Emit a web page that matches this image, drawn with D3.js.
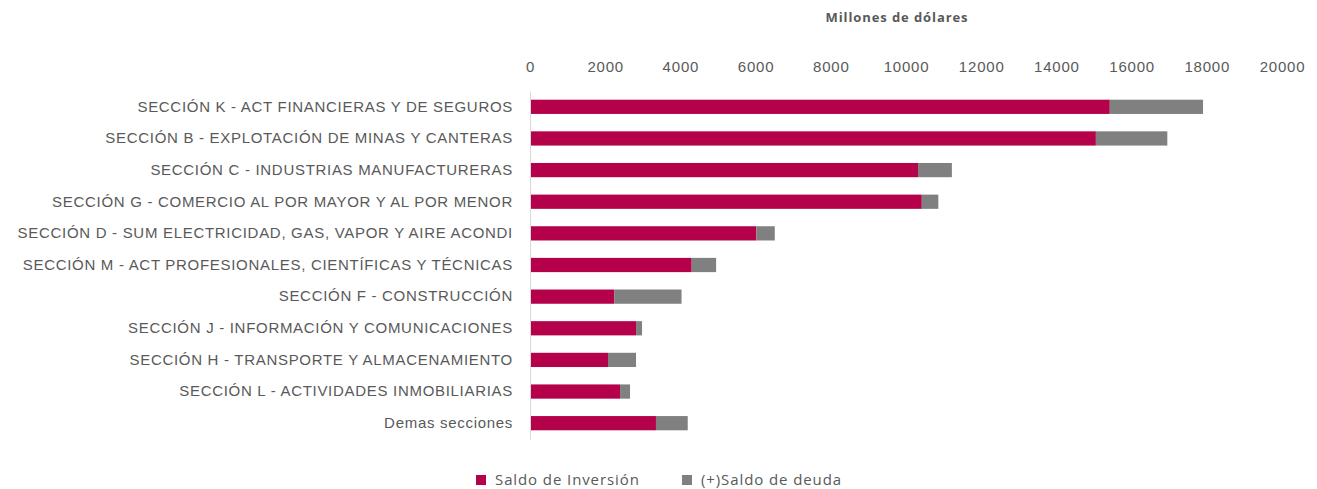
<!DOCTYPE html>
<html>
<head>
<meta charset="utf-8">
<script src="https://cdn.jsdelivr.net/npm/d3@7"></script>
<style>
  body { margin: 0; background: #fff; }
  svg { font-family: "Open Sans", "Noto Sans", sans-serif; }
</style>
</head>
<body>
<svg id="chart" width="1317" height="489"></svg>
<script>
const categories = [
  'SECCIÓN K - ACT FINANCIERAS Y DE SEGUROS',
  'SECCIÓN B - EXPLOTACIÓN DE MINAS Y CANTERAS',
  'SECCIÓN C - INDUSTRIAS MANUFACTURERAS',
  'SECCIÓN G - COMERCIO AL POR MAYOR Y AL POR MENOR',
  'SECCIÓN D - SUM ELECTRICIDAD, GAS, VAPOR Y AIRE ACONDI',
  'SECCIÓN M - ACT PROFESIONALES, CIENTÍFICAS Y TÉCNICAS',
  'SECCIÓN F - CONSTRUCCIÓN',
  'SECCIÓN J - INFORMACIÓN Y COMUNICACIONES',
  'SECCIÓN H - TRANSPORTE Y ALMACENAMIENTO',
  'SECCIÓN L - ACTIVIDADES INMOBILIARIAS',
  'Demas secciones'
];
const saldoInversion = [15420, 15050, 10320, 10420, 6020, 4300, 2240, 2820, 2075, 2395, 3350];
const saldoDeuda = [2480, 1900, 900, 440, 490, 650, 1790, 160, 745, 265, 845];
const seriesNames = ['Saldo de Inversión', '(+)Saldo de deuda'];
const xTicks = [0, 2000, 4000, 6000, 8000, 10000, 12000, 14000, 16000, 18000, 20000];

const colors = ['#b5004a', '#808080'];
const textColor = '#595959';

const svg = d3.select('#chart');
const margin = { top: 91, left: 530, right: 35, bottom: 50 };
const width = 1317 - margin.left - margin.right;
const height = 489 - margin.top - margin.bottom;

const x = d3.scaleLinear().domain([0, 20000]).range([0, width]);
const y = d3.scaleBand().domain(categories).range([0, height]).paddingInner(0.55).paddingOuter(0.275);

const g = svg.append('g').attr('transform', `translate(${margin.left},${margin.top})`);

const rows = categories.map((c, i) => ({ cat: c, vals: [saldoInversion[i], saldoDeuda[i]] }));
const stacked = d3.stack().keys([0, 1]).value((d, k) => d.vals[k])(rows);

// title
svg.append('text')
  .attr('x', 897).attr('y', 22)
  .attr('text-anchor', 'middle')
  .style('font-size', '13px').style('font-weight', 'bold')
  .style('letter-spacing', '0.9px')
  .style('fill', textColor)
  .text('Millones de dólares');

// top axis
const xAxis = g.append('g')
  .call(d3.axisTop(x).tickValues(xTicks).tickFormat(d3.format('d')).tickSize(0).tickPadding(19));
xAxis.select('.domain').remove();
xAxis.selectAll('text').style('font-size', '15px').style('letter-spacing', '0.8px').style('fill', textColor);

// bars
g.selectAll('.layer')
  .data(stacked)
  .enter().append('g')
  .attr('fill', (d, i) => colors[i])
  .selectAll('rect')
  .data(d => d)
  .enter().append('rect')
  .attr('x', d => x(d[0]))
  .attr('y', d => y(d.data.cat))
  .attr('width', d => x(d[1]) - x(d[0]))
  .attr('height', y.bandwidth());

// category axis
const yAxis = g.append('g')
  .call(d3.axisLeft(y).tickSize(0).tickPadding(17));
yAxis.select('.domain').attr('stroke', '#d9d9d9');
yAxis.selectAll('text').style('font-size', '15px').style('letter-spacing', '0.7px').style('fill', textColor);

// legend
const legend = svg.append('g').attr('transform', 'translate(476,480)');
const items = legend.selectAll('g').data(seriesNames).enter().append('g')
  .attr('transform', (d, i) => `translate(${i * 206},0)`);
items.append('rect').attr('x', 0).attr('y', -5).attr('width', 10).attr('height', 10)
  .attr('fill', (d, i) => colors[i]);
items.append('text').attr('x', 19).attr('y', 5)
  .style('font-size', '15px').style('letter-spacing', '0.9px').style('fill', textColor)
  .text(d => d);
</script>
</body>
</html>
